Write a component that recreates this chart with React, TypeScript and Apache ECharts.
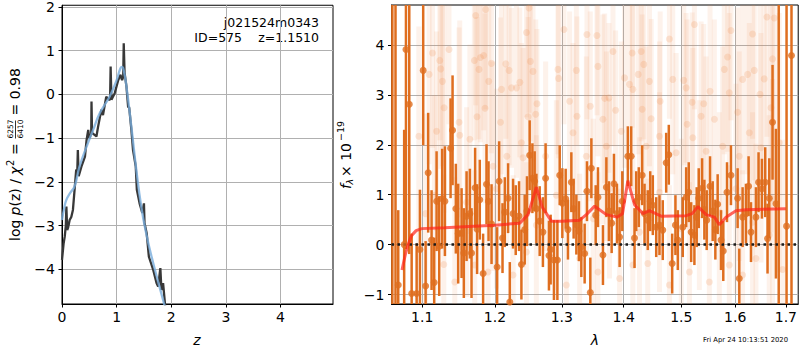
import React, { useEffect, useRef } from "react";
import * as echarts from "echarts";

// ---------- left panel: log p(z) ----------
const pzTicksX = [0, 1, 2, 3, 4];
const pzTicksY = [-4, -3, -2, -1, 0, 1, 2];
const pzRaw: [number, number][] = [
  [0, -3.78], [0.03, -3.4], [0.05, -3.25], [0.07, -3.0], [0.08, -2.56], [0.095, -3.1], [0.11, -3.05],
  [0.14, -2.87], [0.17, -2.8], [0.2, -2.64], [0.23, -2.18], [0.26, -1.72], [0.28, -1.75], [0.29, -1.27],
  [0.305, -1.87], [0.355, -1.65], [0.42, -1.42], [0.45, -1.04], [0.48, -0.81], [0.5, -1.0], [0.535, -0.9],
  [0.54, -0.16], [0.55, -0.88], [0.63, -0.96], [0.66, -0.74], [0.72, -0.35], [0.75, -0.47], [0.81, -0.05],
  [0.87, -0.13], [0.88, -0.1], [0.89, 0.64], [0.905, -0.12], [0.965, 0.03], [1.03, 0.33], [1.07, 0.45],
  [1.1, 0.33], [1.12, 0.4], [1.13, 1.17], [1.145, 0.5], [1.18, 0.18], [1.21, -0.28], [1.23, -0.3],
  [1.27, -0.81], [1.3, -1.27], [1.35, -1.65], [1.37, -2.18], [1.42, -2.49], [1.47, -2.71], [1.5, -2.49],
  [1.51, -2.94], [1.55, -3.17], [1.59, -3.71], [1.67, -4.01], [1.73, -4.31], [1.76, -4.39], [1.8, -3.97],
  [1.82, -4.47], [1.85, -4.31], [1.89, -4.85],
];
const pzSmooth: [number, number][] = [
  [0, -2.87], [0.04, -2.6], [0.08, -2.41], [0.15, -2.25], [0.23, -2.1], [0.32, -1.65], [0.45, -1.19],
  [0.57, -0.81], [0.69, -0.43], [0.87, -0.05], [1.0, 0.33], [1.07, 0.6], [1.1, 0.63], [1.13, 0.55],
  [1.18, 0.18], [1.27, -0.74], [1.36, -1.72], [1.45, -2.56], [1.54, -3.17], [1.67, -3.86], [1.85, -4.7],
  [1.9, -4.95],
];

// ---------- right panel: spectrum ----------
const waveTicks = [1.1, 1.2, 1.3, 1.4, 1.5, 1.6, 1.7];
const fluxTicks = [-1, 0, 1, 2, 3, 4];
// [wavelength (um), flux, error]
const specPoints: [number, number, number][] = [
  [1.0614, -1.6, 7], [1.0654, -1.5, 7], [1.0689, -0.81, 1.5], [1.0765, 0.0, 2.3], [1.0788, 3.91, 4],
  [1.0831, 2.81, 3], [1.0862, -0.98, 1.2], [1.0927, -0.98, 1.0], [1.097, -0.1, 1.2], [1.1013, 3.49, 1.5],
  [1.1045, -0.83, 0.9], [1.1079, 1.44, 1.2], [1.1124, 0.09, 1.0], [1.1159, -0.76, 0.9], [1.1191, 0.87, 1.0],
  [1.1226, -0.03, 1.0], [1.1266, 0.92, 1.0], [1.1303, 0.87, 1.1], [1.138, 1.93, 1.0], [1.1407, 2.29, 1.1],
  [1.1452, 0.72, 0.9], [1.1484, 0.22, 1.0], [1.1531, 0.23, 0.9], [1.1562, -0.17, 0.9], [1.16, 0.57, 0.9],
  [1.1646, 0.62, 0.9], [1.1669, -0.17, 0.9], [1.1719, 1.14, 0.8], [1.1747, 0.31, 0.9], [1.1785, 0.9, 0.8],
  [1.1832, -0.58, 0.8], [1.188, 1.21, 0.8], [1.1909, 0.87, 0.8], [1.1952, 0.41, 0.8], [1.2032, -0.45, 0.8],
  [1.2061, 1.27, 0.8], [1.211, 0.13, 0.7], [1.2143, 0.65, 0.7], [1.2191, 0.93, 0.7], [1.2216, -1.15, 0.8],
  [1.2264, 0.62, 0.7], [1.2303, 0.49, 0.7], [1.2352, 0.57, 0.7], [1.2387, -0.4, 0.7], [1.2436, 0.3, 0.7],
  [1.247, 0.67, 0.7], [1.251, 1.79, 0.7], [1.2551, 1.33, 0.7], [1.2585, 1.27, 0.6], [1.2611, 0.72, 0.7],
  [1.2661, 0.47, 0.7], [1.271, 0.25, 0.7], [1.2751, 1.33, 0.7], [1.2802, -0.22, 0.7], [1.2828, -0.1, 0.7],
  [1.2879, -0.31, 0.8], [1.2932, -0.31, 0.8], [1.2968, 1.39, 0.6], [1.3009, 0.83, 0.7], [1.3061, 0.92, 0.6],
  [1.3097, 0.3, 0.6], [1.315, 1.25, 0.6], [1.3186, 0.72, 0.6], [1.3229, 0.4, 0.6], [1.327, 0.27, 0.6],
  [1.3308, -0.05, 0.6], [1.3361, -0.18, 0.6], [1.3398, 1.07, 0.6], [1.3452, -0.96, 0.7], [1.3469, 1.53, 0.6],
  [1.3539, 0.59, 0.6], [1.3576, 0.95, 0.6], [1.3657, -0.21, 0.6], [1.3713, 1.15, 0.6], [1.3755, 0.67, 0.6],
  [1.38, 0.43, 0.6], [1.3838, 1.22, 0.6], [1.3888, 0.62, 0.6], [1.3932, 0.15, 0.6], [1.3977, 0.87, 0.6],
  [1.407, 1.77, 0.6], [1.4127, 1.77, 0.6], [1.4183, 0.13, 0.6], [1.4212, 0.87, 0.6], [1.4256, 0.95, 0.6],
  [1.4314, 1.39, 0.6], [1.4354, 0.62, 0.6], [1.441, 0.49, 0.6], [1.4452, 0.87, 0.6], [1.4497, 0.79, 0.6],
  [1.4556, 0.35, 0.6], [1.4613, 0.39, 0.6], [1.4671, 0.29, 0.6], [1.4731, 1.64, 0.6], [1.4777, 1.8, 0.6],
  [1.4837, -0.38, 0.6], [1.4895, 0.39, 0.6], [1.4937, 0.09, 0.6], [1.5026, 0.35, 0.6], [1.5087, 0.95, 0.6],
  [1.5134, 1.05, 0.6], [1.5178, 0.25, 0.6], [1.5237, 0.19, 0.6], [1.5279, 0.55, 0.6], [1.5316, 0.93, 0.6],
  [1.5378, 1.13, 0.6], [1.542, 0.7, 0.6], [1.5463, 0.49, 0.6], [1.5525, 1.17, 0.6], [1.5574, 0.67, 0.6],
  [1.5624, 0.3, 0.6], [1.5667, 0.81, 0.6], [1.573, 0.09, 0.6], [1.5773, -0.13, 0.6], [1.5843, 1.05, 0.6],
  [1.5919, 1.39, 0.6], [1.6046, 0.93, 0.6], [1.6078, -0.68, 0.6], [1.6142, 0.55, 0.6], [1.6207, 0.62, 0.6],
  [1.6258, 1.17, 0.6], [1.6305, 0.25, 0.6], [1.6402, 0.55, 0.6], [1.6453, 1.25, 0.6], [1.652, 1.12, 0.6],
  [1.6585, 1.25, 0.7], [1.6631, 0.12, 0.7], [1.6665, 0.93, 0.8], [1.6731, 2.45, 1.15], [1.6799, 0.82, 1.5],
  [1.6855, -1.6, 6.5], [1.7014, 0.37, 5], [1.7115, 3.79, 5],
];
// faded (down-weighted) points: [wavelength, flux, error]
const fadedPoints: [number, number, number][] = [
  [1.0956, 2.17, 2.2], [1.1091, 3.41, 1.8], [1.1136, 3.84, 1.9], [1.1234, 3.69, 1.6], [1.1247, 3.52, 2.0],
  [1.127, 3.27, 1.7], [1.1292, 2.74, 2.1], [1.1359, 3.91, 1.5], [1.1496, 2.45, 1.9], [1.1506, 2.19, 2.3],
  [1.1709, 3.69, 1.6], [1.1727, 4.59, 1.8], [1.1746, 2.56, 2.0], [1.1774, 3.51, 1.4], [1.1794, 3.75, 1.7],
  [1.184, 3.79, 1.5], [1.1859, 2.73, 1.9], [1.1869, 4.71, 2.0], [1.1912, 3.27, 1.6], [1.195, 3.63, 1.8],
  [1.2081, 2.45, 2.1], [1.2095, 3.11, 1.7], [1.2158, 3.62, 1.5], [1.2206, 3.49, 1.9], [1.2241, 3.14, 1.6],
  [1.2314, 3.14, 1.8], [1.2363, 3.25, 1.5], [1.2411, 1.74, 2.2], [1.2462, 4.25, 1.7], [1.2486, 2.56, 2.0],
  [1.25, 4.74, 2.1], [1.2521, 3.67, 1.6], [1.256, 3.47, 1.8], [1.2601, 2.61, 1.9], [1.262, 2.82, 1.5],
  [1.2941, 3.51, 1.7], [1.295, 3.33, 1.6], [1.3034, 4.31, 1.9], [1.3123, 2.87, 1.8], [1.3229, 3.49, 1.5],
  [1.3239, 2.57, 2.0], [1.3398, 4.21, 1.7], [1.3452, 2.77, 1.9], [1.3559, 4.19, 1.6], [1.3575, 3.57, 1.8],
  [1.3657, 2.51, 2.1], [1.3685, 2.93, 1.7], [1.3755, 2.94, 1.5], [1.3822, 3.87, 1.9], [1.3866, 2.69, 1.6],
  [1.4014, 3.34, 1.8], [1.4098, 3.21, 1.7], [1.4144, 3.84, 1.5], [1.4154, 3.11, 2.0], [1.4246, 3.41, 1.6],
  [1.4297, 3.87, 1.8], [1.4314, 2.71, 1.9], [1.4341, 3.61, 1.5], [1.4439, 3.27, 1.7], [1.4469, 2.52, 2.0],
  [1.4625, 2.87, 1.8], [1.4788, 4.12, 1.6], [1.4847, 3.31, 1.9], [1.5044, 3.29, 1.7], [1.5087, 3.14, 1.5],
  [1.5105, 2.41, 2.1], [1.5196, 2.85, 1.8], [1.5237, 4.41, 1.7], [1.536, 2.57, 1.9], [1.5408, 2.82, 1.6],
  [1.5525, 3.07, 1.8], [1.5606, 2.51, 2.0], [1.5792, 3.51, 1.7], [1.5855, 3.76, 1.9], [1.5887, 3.04, 1.6],
  [1.5919, 4.29, 1.8], [1.6046, 2.65, 2.1], [1.6142, 3.31, 1.9], [1.6239, 3.41, 2.0], [1.6336, 4.22, 2.1],
  [1.6369, 3.49, 2.2], [1.6481, 3.01, 2.3], [1.6565, 3.32, 2.2], [1.6619, 4.56, 2.4], [1.6699, 2.74, 2.5],
  [1.6731, 3.72, 2.4], [1.6765, 4.54, 2.6],
  [1.1045, 0.62, 2.0], [1.1288, -0.4, 1.8], [1.1437, -0.75, 2.1], [1.1714, -0.41, 1.9], [1.1902, -0.55, 1.7],
  [1.2264, -0.61, 2.0], [1.2462, -0.15, 1.8], [1.3072, -0.81, 1.9], [1.3281, -0.28, 1.7], [1.3575, -0.55, 2.0],
  [1.3932, -0.68, 1.8], [1.4154, -0.41, 1.9], [1.441, -0.38, 1.7], [1.4788, -0.81, 2.0], [1.5146, -0.55, 1.8],
  [1.5512, -0.75, 1.9], [1.5887, -0.41, 2.0], [1.6142, -0.61, 2.1], [1.6402, -0.28, 2.3], [1.6665, 0.19, 2.4],
  [1.6934, -0.5, 2.6],
  [1.1191, 2.27, 2.0], [1.1646, 2.11, 1.9], [1.1972, 1.57, 2.1], [1.2172, 1.77, 1.8], [1.2387, 2.04, 2.0],
  [1.2751, 1.77, 1.9], [1.3176, 2.24, 1.8], [1.3388, 1.77, 2.0], [1.3713, 1.97, 1.9], [1.396, 2.27, 1.8],
  [1.4382, 1.97, 2.0], [1.4613, 2.17, 1.9], [1.4907, 1.84, 2.0], [1.5208, 2.14, 1.8], [1.5452, 1.87, 1.9],
  [1.576, 1.97, 2.0], [1.6078, 1.77, 2.1], [1.6272, 2.24, 2.2], [1.6502, 1.94, 2.3], [1.6865, 2.04, 2.6],
  [1.1162, 0.99, 2.0], [1.16, 0.85, 1.9], [1.2023, 1.12, 2.0], [1.2611, 0.39, 1.8], [1.2916, 0.99, 1.9],
  [1.35, 0.52, 2.0], [1.3764, 1.12, 1.8], [1.4268, 0.25, 1.9], [1.4613, 1.05, 2.0], [1.5, 0.32, 1.8],
  [1.5328, 0.99, 1.9], [1.5699, 0.65, 2.0], [1.6015, 1.12, 2.1], [1.6336, 0.45, 2.2], [1.6731, 0.92, 2.4],
];
const modelCurve: [number, number][] = [
  [1.0737, -0.51], [1.078, -0.2], [1.0816, 0.0], [1.086, 0.18], [1.092, 0.28], [1.0993, 0.32], [1.13, 0.34],
  [1.17, 0.37], [1.2, 0.39], [1.2363, 0.43], [1.2486, 0.6], [1.2611, 1.15], [1.27, 0.75], [1.2839, 0.47],
  [1.3, 0.47], [1.3281, 0.49], [1.3388, 0.6], [1.3522, 0.77], [1.3713, 0.6], [1.3888, 0.55], [1.398, 0.62],
  [1.407, 1.28], [1.4183, 0.8], [1.4327, 0.62], [1.4439, 0.68], [1.4642, 0.57], [1.5087, 0.58], [1.5196, 0.62],
  [1.53, 0.76], [1.5452, 0.6], [1.5606, 0.55], [1.5699, 0.4], [1.5824, 0.55], [1.6014, 0.68], [1.6207, 0.7],
  [1.7, 0.72],
];

const PZ_X = [0, 4.96];
const PZ_Y = [-4.79, 2.04];
const WAVE_RANGE = [1.0603, 1.7253];
const FLUX_RANGE = [-1.19, 4.8];

const FONT = "DejaVu Sans";
const fmtMinus = (v: number) => String(v).replace("-", "\u2212");

function errBarSeries(points: [number, number, number][], color: string, width: number, z: number) {
  return {
    type: "custom",
    xAxisIndex: 1,
    yAxisIndex: 1,
    encode: { x: 0, y: 1 },
    data: points.map((p) => [Math.log10(p[0]), p[1], p[2]]),
    renderItem: (_params: any, api: any) => {
      const x = api.value(0);
      const y = api.value(1);
      const e = api.value(2);
      const lo = Math.max(y - e, FLUX_RANGE[0]);
      const hi = Math.min(y + e, FLUX_RANGE[1]);
      const p1 = api.coord([x, lo]);
      const p2 = api.coord([x, hi]);
      return {
        type: "line",
        shape: { x1: p1[0], y1: p1[1], x2: p2[0], y2: p2[1] },
        style: { stroke: color, lineWidth: width },
      };
    },
    z,
  };
}

export default function App() {
  const ref = useRef<HTMLDivElement>(null);
  useEffect(() => {
    if (!ref.current) return;
    const chart = echarts.init(ref.current, undefined, { renderer: "svg" });
    const axisCommon = {
      axisLine: { show: true, onZero: false, lineStyle: { color: "#000", width: 1 } },
      axisTick: { show: true, length: 3.5, lineStyle: { color: "#000", width: 1 } },
      splitLine: { show: true, lineStyle: { color: "#b0b0b0", width: 1 } },
    };
    const labelStyle = { color: "#000", fontSize: 14, fontFamily: FONT };
    const logWaveTicks = waveTicks.map((w) => Math.log10(w));
    const option: any = {
      animation: false,
      grid: [
        { left: 62, top: 5, width: 271, height: 299, show: true, borderColor: "#000", borderWidth: 1 },
        { left: 391.5, top: 5, width: 407, height: 299, show: true, borderColor: "#000", borderWidth: 1 },
      ],
      xAxis: [
        {
          gridIndex: 0, type: "value", min: PZ_X[0], max: PZ_X[1], ...axisCommon,
          axisTick: { ...axisCommon.axisTick, customValues: pzTicksX },
          axisLabel: { ...labelStyle, margin: 6, customValues: pzTicksX, formatter: fmtMinus },
        },
        {
          gridIndex: 1, type: "value", min: Math.log10(WAVE_RANGE[0]), max: Math.log10(WAVE_RANGE[1]), ...axisCommon,
          axisTick: { ...axisCommon.axisTick, customValues: logWaveTicks },
          axisLabel: {
            ...labelStyle, margin: 6, customValues: logWaveTicks,
            formatter: (v: number) => Math.pow(10, v).toFixed(1),
          },
        },
      ],
      yAxis: [
        {
          gridIndex: 0, type: "value", min: PZ_Y[0], max: PZ_Y[1], ...axisCommon,
          axisTick: { ...axisCommon.axisTick, customValues: pzTicksY },
          axisLabel: { ...labelStyle, margin: 7, customValues: pzTicksY, formatter: fmtMinus },
        },
        {
          gridIndex: 1, type: "value", min: FLUX_RANGE[0], max: FLUX_RANGE[1], ...axisCommon,
          axisTick: { ...axisCommon.axisTick, customValues: fluxTicks },
          axisLabel: { ...labelStyle, margin: 7, customValues: fluxTicks, formatter: fmtMinus },
        },
      ],
      series: [
        {
          type: "line", xAxisIndex: 0, yAxisIndex: 0, data: pzRaw, showSymbol: false, clip: true,
          lineStyle: { color: "#383838", width: 2.3 }, z: 3,
        },
        {
          type: "line", xAxisIndex: 0, yAxisIndex: 0, data: pzSmooth, showSymbol: false, smooth: true, clip: true,
          lineStyle: { color: "rgba(120,172,220,0.8)", width: 2.3 }, z: 4,
        },
        errBarSeries(fadedPoints, "rgba(238,140,75,0.11)", 5, 2),
        {
          type: "scatter", xAxisIndex: 1, yAxisIndex: 1, symbolSize: 7, z: 3,
          data: fadedPoints.map((p) => [Math.log10(p[0]), p[1]]),
          itemStyle: { color: "rgba(238,140,75,0.25)" },
        },
        errBarSeries(specPoints, "#df6e1f", 2.5, 4),
        {
          type: "scatter", xAxisIndex: 1, yAxisIndex: 1, symbolSize: 7, z: 5,
          data: specPoints.map((p) => [Math.log10(p[0]), p[1]]),
          itemStyle: { color: "#df6e1f" },
        },
        {
          type: "line", xAxisIndex: 1, yAxisIndex: 1, showSymbol: false, z: 6,
          data: modelCurve.map((p) => [Math.log10(p[0]), p[1]]),
          lineStyle: { color: "rgba(255,35,25,0.7)", width: 3 },
          markLine: {
            silent: true, symbol: "none", label: { show: false },
            lineStyle: { color: "#1a1a1a", width: 2.5, type: [2.5, 3.5], opacity: 1 },
            data: [{ yAxis: 0 }],
          },
        },
      ],
      graphic: [
        { type: "text", x: 319, y: 22, style: { text: "j021524m0343", font: `12.5px ${FONT}`, fill: "#000", align: "right", verticalAlign: "middle" } },
        { type: "text", x: 242, y: 37, style: { text: "ID=575", font: `12.5px ${FONT}`, fill: "#000", align: "right", verticalAlign: "middle" } },
        { type: "text", x: 319, y: 37, style: { text: "z=1.1510", font: `12.5px ${FONT}`, fill: "#000", align: "right", verticalAlign: "middle" } },
        { type: "text", x: 197, y: 340, style: { text: "z", font: `italic 14px ${FONT}`, fill: "#000", align: "center", verticalAlign: "middle" } },
        { type: "text", x: 595, y: 340, style: { text: "\u03bb", font: `italic 14px ${FONT}`, fill: "#000", align: "center", verticalAlign: "middle" } },
        { type: "text", x: 788, y: 340, style: { text: "Fri Apr 24 10:13:51 2020", font: `6.8px ${FONT}`, fill: "#000", align: "right", verticalAlign: "middle" } },
        {
          type: "group", x: 15, y: 241, rotation: Math.PI / 2,
          children: [
            { type: "text", x: 0, y: 0, style: { text: "log ", font: `14px ${FONT}`, fill: "#000", verticalAlign: "middle" } },
            { type: "text", x: 25.5, y: 0, style: { text: "p", font: `italic 14px ${FONT}`, fill: "#000", verticalAlign: "middle" } },
            { type: "text", x: 34.5, y: 0, style: { text: "(z) / ", font: `14px ${FONT}`, fill: "#000", verticalAlign: "middle" } },
            { type: "text", x: 66, y: 0, style: { text: "\u03c7", font: `italic 14px ${FONT}`, fill: "#000", verticalAlign: "middle" } },
            { type: "text", x: 75, y: -5, style: { text: "2", font: `10px ${FONT}`, fill: "#000", verticalAlign: "middle" } },
            { type: "text", x: 81.5, y: 0, style: { text: " = ", font: `14px ${FONT}`, fill: "#000", verticalAlign: "middle" } },
            { type: "text", x: 102.5, y: -4.5, style: { text: "6257", font: `7.5px ${FONT}`, fill: "#000", verticalAlign: "middle" } },
            { type: "line", shape: { x1: 102.5, y1: 0.5, x2: 120.5, y2: 0.5 }, style: { stroke: "#000", lineWidth: 0.8 } },
            { type: "text", x: 102.5, y: 5.5, style: { text: "6410", font: `7.5px ${FONT}`, fill: "#000", verticalAlign: "middle" } },
            { type: "text", x: 121, y: 0, style: { text: " = 0.98", font: `14px ${FONT}`, fill: "#000", verticalAlign: "middle" } },
          ],
        },
        {
          type: "group", x: 346, y: 189, rotation: Math.PI / 2,
          children: [
            { type: "text", x: 0, y: 0, style: { text: "f", font: `italic 14px ${FONT}`, fill: "#000", verticalAlign: "middle" } },
            { type: "text", x: 4.5, y: 3.5, style: { text: "\u03bb", font: `italic 9.5px ${FONT}`, fill: "#000", verticalAlign: "middle" } },
            { type: "text", x: 12, y: 0, style: { text: "\u00d7 10", font: `14px ${FONT}`, fill: "#000", verticalAlign: "middle" } },
            { type: "text", x: 48, y: -5.5, style: { text: "\u221219", font: `9.5px ${FONT}`, fill: "#000", verticalAlign: "middle" } },
          ],
        },
      ],
    };
    chart.setOption(option);
    return () => chart.dispose();
  }, []);
  return (
    <div
      ref={ref}
      style={{ position: "absolute", left: 0, top: 0, width: 800, height: 350, background: "#fff" }}
    />
  );
}
